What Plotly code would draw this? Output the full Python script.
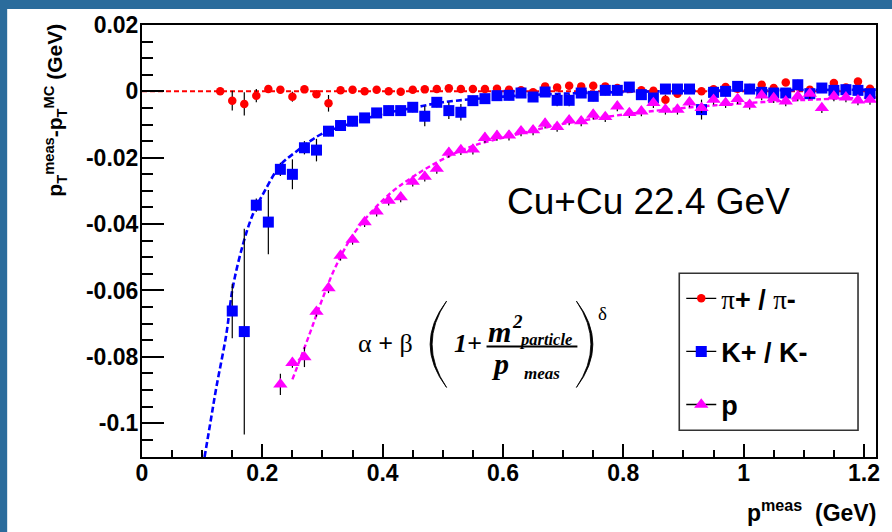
import plotly.graph_objects as go

# ---------------- data ----------------
pion_x = [0.13, 0.15, 0.17, 0.19, 0.21, 0.23, 0.25, 0.27, 0.29, 0.31, 0.33, 0.35, 0.37, 0.39,
          0.41, 0.43, 0.45, 0.47, 0.49, 0.51, 0.53, 0.55, 0.57, 0.59, 0.61, 0.63, 0.65, 0.67,
          0.69, 0.71, 0.73, 0.75, 0.77, 0.79, 0.81, 0.83, 0.85, 0.87, 0.89, 0.91, 0.93, 0.95,
          0.97, 0.99, 1.01, 1.03, 1.05, 1.07, 1.09, 1.11, 1.13, 1.15, 1.17, 1.19, 1.21]
pion_y = [0.0000, -0.0028, -0.0038, -0.0013, 0.0007, 0.0005, -0.0016, 0.0006, -0.0009, -0.0036,
          0.0003, 0.0005, 0.0000, 0.0005, 0.0000, -0.0001, 0.0005, 0.0006, 0.0007, 0.0009,
          0.0007, 0.0007, 0.0007, 0.0008, 0.0005, 0.0003, -0.0003, 0.0015, 0.0012, 0.0017,
          0.0015, 0.0017, 0.0015, 0.0010, 0.0008, 0.0003, 0.0002, -0.0025, -0.0007, 0.0005,
          0.0000, 0.0006, 0.0013, 0.0008, 0.0010, 0.0020, 0.0010, 0.0027, 0.0015, 0.0005,
          0.0010, 0.0025, 0.0012, 0.0030, 0.0008]
pion_err = [0.0010, 0.0030, 0.0035, 0.0020, 0.0010, 0.0010, 0.0015, 0.0010, 0.0010, 0.0025,
            0.0010, 0.0010, 0.0010, 0.0010, 0.0010, 0.0010, 0.0010, 0.0010, 0.0010, 0.0010,
            0.0010, 0.0010, 0.0010, 0.0010, 0.0010, 0.0010, 0.0010, 0.0010, 0.0010, 0.0010,
            0.0010, 0.0010, 0.0010, 0.0010, 0.0010, 0.0010, 0.0010, 0.0015, 0.0010, 0.0010,
            0.0010, 0.0010, 0.0010, 0.0010, 0.0010, 0.0010, 0.0010, 0.0010, 0.0010, 0.0010,
            0.0010, 0.0010, 0.0010, 0.0010, 0.0010]

kaon_x = [0.15, 0.17, 0.19, 0.21, 0.23, 0.25, 0.27, 0.29, 0.31, 0.33, 0.35, 0.37, 0.39, 0.41,
          0.43, 0.45, 0.47, 0.49, 0.51, 0.53, 0.55, 0.57, 0.59, 0.61, 0.63, 0.65, 0.67, 0.69,
          0.71, 0.73, 0.75, 0.77, 0.79, 0.81, 0.83, 0.85, 0.87, 0.89, 0.91, 0.93, 0.95, 0.97,
          0.99, 1.01, 1.03, 1.05, 1.07, 1.09, 1.11, 1.13, 1.15, 1.17, 1.19, 1.21]
kaon_y = [-0.0662, -0.0724, -0.0343, -0.0394, -0.0235, -0.0250, -0.0170, -0.0177, -0.0120, -0.0103,
          -0.0090, -0.0080, -0.0065, -0.0058, -0.0058, -0.0048, -0.0075, -0.0033, -0.0058, -0.0063,
          -0.0028, -0.0022, -0.0013, -0.0012, -0.0005, -0.0017, -0.0002, -0.0027, -0.0027, -0.0005,
          -0.0015, 0.0003, 0.0003, 0.0013, -0.0010, -0.0020, 0.0007, 0.0007, 0.0007, -0.0055,
          -0.0003, 0.0000, 0.0015, 0.0007, -0.0003, -0.0005, -0.0005, 0.0020, -0.0007, 0.0010,
          0.0003, 0.0005, 0.0003, -0.0007]
kaon_err = [0.0082, 0.0310, 0.0020, 0.0097, 0.0020, 0.0045, 0.0020, 0.0034, 0.0015, 0.0015,
            0.0015, 0.0015, 0.0015, 0.0015, 0.0015, 0.0015, 0.0030, 0.0015, 0.0025, 0.0025,
            0.0015, 0.0015, 0.0015, 0.0015, 0.0015, 0.0015, 0.0015, 0.0018, 0.0018, 0.0015,
            0.0015, 0.0015, 0.0015, 0.0015, 0.0015, 0.0015, 0.0015, 0.0015, 0.0015, 0.0030,
            0.0015, 0.0015, 0.0015, 0.0015, 0.0015, 0.0015, 0.0015, 0.0015, 0.0015, 0.0015,
            0.0015, 0.0015, 0.0015, 0.0015]

proton_x = [0.23, 0.25, 0.27, 0.29, 0.31, 0.33, 0.35, 0.37, 0.39, 0.41, 0.43, 0.45, 0.47, 0.49,
            0.51, 0.53, 0.55, 0.57, 0.59, 0.61, 0.63, 0.65, 0.67, 0.69, 0.71, 0.73, 0.75, 0.77,
            0.79, 0.81, 0.83, 0.85, 0.87, 0.89, 0.91, 0.93, 0.95, 0.97, 0.99, 1.01, 1.03, 1.05,
            1.07, 1.09, 1.11, 1.13, 1.15, 1.17, 1.19, 1.21]
proton_y = [-0.0883, -0.0818, -0.0801, -0.0664, -0.0593, -0.0495, -0.0447, -0.0394, -0.0362, -0.0329,
            -0.0319, -0.0272, -0.0257, -0.0233, -0.0185, -0.0177, -0.0175, -0.0140, -0.0134, -0.0133,
            -0.0120, -0.0117, -0.0097, -0.0107, -0.0087, -0.0090, -0.0070, -0.0077, -0.0045, -0.0065,
            -0.0060, -0.0035, -0.0055, -0.0055, -0.0033, -0.0050, -0.0025, -0.0035, -0.0023, -0.0040,
            -0.0012, -0.0020, -0.0030, -0.0015, -0.0007, -0.0050, -0.0015, -0.0018, -0.0027, -0.0025]
proton_err = [0.0032, 0.0015, 0.0030, 0.0015, 0.0015, 0.0015, 0.0015, 0.0015, 0.0015, 0.0015,
              0.0015, 0.0015, 0.0015, 0.0015, 0.0015, 0.0015, 0.0015, 0.0015, 0.0015, 0.0015,
              0.0015, 0.0015, 0.0015, 0.0015, 0.0015, 0.0015, 0.0015, 0.0015, 0.0015, 0.0015,
              0.0015, 0.0015, 0.0015, 0.0015, 0.0015, 0.0015, 0.0015, 0.0015, 0.0015, 0.0015,
              0.0015, 0.0015, 0.0015, 0.0015, 0.0015, 0.0015, 0.0015, 0.0015, 0.0015, 0.0015]

# fitted curves
pion_fit_x = [0.0, 1.22]
pion_fit_y = [0.0, 0.0]
kaon_fit_x = [0.104, 0.1135, 0.1235, 0.140, 0.151, 0.168, 0.184, 0.204, 0.231, 0.256, 0.278, 0.300,
              0.350, 0.400, 0.450, 0.500, 0.600, 0.700, 0.800, 0.900, 1.000, 1.100, 1.220]
kaon_fit_y = [-0.1102, -0.1000, -0.0893, -0.0734, -0.0590, -0.0460, -0.0372, -0.0300, -0.0220, -0.0182,
              -0.0152, -0.0127, -0.0095, -0.0068, -0.0050, -0.0033, -0.0016, -0.0007, -0.0002, 0.0001,
              0.0003, 0.0004, 0.0005]
proton_fit_x = [0.250, 0.278, 0.298, 0.323, 0.356, 0.411, 0.461, 0.505, 0.549, 0.616, 0.700, 0.800,
                0.900, 1.000, 1.100, 1.220]
proton_fit_y = [-0.0868, -0.0734, -0.0634, -0.0524, -0.0419, -0.0310, -0.0245, -0.0200, -0.0165, -0.0133,
                -0.0098, -0.0070, -0.0050, -0.0036, -0.0026, -0.0018]

x_tickvals = [0, 0.2, 0.4, 0.6, 0.8, 1.0, 1.2]
x_ticktext = ["0", "0.2", "0.4", "0.6", "0.8", "1", "1.2"]
y_tickvals = [0.02, 0, -0.02, -0.04, -0.06, -0.08, -0.1]
y_ticktext = ["0.02", "0", "-0.02", "-0.04", "-0.06", "-0.08", "-0.1"]

legend_labels = [
    '<span style="font-family:Liberation Serif">π</span><b>+ / </b>'
    '<span style="font-family:Liberation Serif">π</span><b>-</b>',
    '<b>K+ / K-</b>',
    '<b>p</b>',
]
x_title = '<b>p<sup>meas</sup>\u00a0\u00a0(GeV)</b>'
y_title = '<b>p<sub>T</sub><sup>meas</sup>-p<sub>T</sub><sup>MC</sup> (GeV)</b>'
system_label = 'Cu+Cu 22.4 GeV'

# ---------------- geometry helpers (pixel -> paper) ----------------
W, H = 892, 532
PL, PR, PT, PB = 142, 877, 22, 457


def xp(p):
    return (p - PL) / (PR - PL)


def yp(p):
    return (PB - p) / (PB - PT)


SANS = 'Liberation Sans'
SERIF = 'Liberation Serif'

fig = go.Figure()

# fit curves
fig.add_trace(go.Scatter(x=pion_fit_x, y=pion_fit_y, mode='lines', showlegend=False, hoverinfo='skip',
                         line=dict(color='#ff0000', width=2, dash='5px,3px')))
fig.add_trace(go.Scatter(x=kaon_fit_x, y=kaon_fit_y, mode='lines', showlegend=False, hoverinfo='skip',
                         line=dict(color='#0000ff', width=2.6, dash='6px,3px', shape='spline')))
fig.add_trace(go.Scatter(x=proton_fit_x, y=proton_fit_y, mode='lines', showlegend=False, hoverinfo='skip',
                         line=dict(color='#ff00ff', width=2.4, dash='5px,3px', shape='spline')))

series = [
    (pion_x, pion_y, pion_err, '#ff0000', 'circle', 8.5),
    (kaon_x, kaon_y, kaon_err, '#0000ff', 'square', 11),
    (proton_x, proton_y, proton_err, '#ff00ff', 'triangle-up', 12.5),
]
for sx, sy, se, col, sym, sz in series:
    fig.add_trace(go.Scatter(
        x=sx, y=sy, mode='markers', showlegend=False,
        marker=dict(color=col, symbol=sym, size=sz, line=dict(width=0)),
        error_y=dict(type='data', array=se, visible=True, color='black', thickness=1.2, width=0)))

# legend keys (ROOT style: black line through the marker)
for (sx, sy, se, col, sym, sz), lab in zip(series, legend_labels):
    fig.add_trace(go.Scatter(
        x=[None], y=[None], mode='lines+markers', name=lab, legendgroup=lab,
        line=dict(color='black', width=1.3),
        marker=dict(color=col, symbol=sym, size=sz, line=dict(width=0))))

axis_font = dict(family=SANS, size=23, color='black', weight='bold')

fig.update_layout(
    width=W, height=H,
    margin=dict(l=PL, r=W - PR, t=PT, b=H - PB, pad=0),
    paper_bgcolor='#2b6c9c',
    plot_bgcolor='white',
    showlegend=True,
    xaxis=dict(range=[0, 1.22], tickmode='array', tickvals=x_tickvals, ticktext=x_ticktext,
               ticks='inside', ticklen=13, tickwidth=1.6, tickcolor='black',
               minor=dict(ticks='inside', ticklen=7, tickwidth=1.6, tickcolor='black',
                          tickmode='linear', tick0=0, dtick=0.05, showgrid=False),
               showline=True, linecolor='black', linewidth=2, mirror=True,
               showgrid=False, zeroline=False, tickfont=axis_font, ticklabelstandoff=-6),
    yaxis=dict(range=[-0.1102, 0.02], tickmode='array', tickvals=y_tickvals, ticktext=y_ticktext,
               ticks='inside', ticklen=22, tickwidth=1.6, tickcolor='black',
               minor=dict(ticks='inside', ticklen=11, tickwidth=1.6, tickcolor='black',
                          tickmode='linear', tick0=0, dtick=0.005, showgrid=False),
               showline=True, linecolor='black', linewidth=2, mirror=True,
               showgrid=False, zeroline=False, tickfont=axis_font, ticklabelstandoff=-3),
    legend=dict(x=xp(682), y=yp(273), xanchor='left', yanchor='top',
                bgcolor='rgba(0,0,0,0)', borderwidth=0, tracegroupgap=15,
                font=dict(family=SANS, size=27, color='black'), itemwidth=30),
)

shapes = []
# white slide panel
shapes.append(dict(type='rect', xref='paper', yref='paper', layer='below',
                   x0=xp(7), x1=xp(W + 5), y0=yp(H + 5), y1=yp(6),
                   fillcolor='white', line=dict(width=0)))
# legend box
shapes.append(dict(type='rect', xref='paper', yref='paper', layer='above',
                   x0=xp(680), x1=xp(859), y0=yp(430), y1=yp(272),
                   fillcolor='rgba(0,0,0,0)', line=dict(color='#333333', width=1.6)))
# fraction bar
shapes.append(dict(type='line', xref='paper', yref='paper', layer='above',
                   x0=xp(487), x1=xp(578), y0=yp(345.7), y1=yp(345.7),
                   line=dict(color='black', width=2)))


def paren_path(xe, ytop, ybot, xo_ctrl, xi_ctrl):
    ym = (ytop + ybot) / 2
    return (f'M {xp(xe)},{yp(ytop)} Q {xp(xo_ctrl)},{yp(ym)} {xp(xe)},{yp(ybot)} '
            f'Q {xp(xi_ctrl)},{yp(ym)} {xp(xe)},{yp(ytop)} Z')


shapes.append(dict(type='path', xref='paper', yref='paper', layer='above',
                   path=paren_path(447, 300, 387, 414, 418),
                   fillcolor='black', line=dict(color='black', width=0.8)))
shapes.append(dict(type='path', xref='paper', yref='paper', layer='above',
                   path=paren_path(577, 300, 387, 610, 606),
                   fillcolor='black', line=dict(color='black', width=0.8)))
fig.update_layout(shapes=shapes)

ann = []


def add_text(text, x, y, size, family=SANS, xanchor='center', yanchor='middle', angle=0):
    ann.append(dict(text=text, x=xp(x), y=yp(y), xref='paper', yref='paper', showarrow=False,
                    xanchor=xanchor, yanchor=yanchor, textangle=angle,
                    font=dict(family=family, size=size, color='black')))


# axis titles
add_text(y_title, 55, 19, 21, xanchor='center', yanchor='top', angle=-90)
add_text(x_title, 879, 511, 23, xanchor='right')
# system label
add_text(system_label, 505, 200, 37, xanchor='left')
# formula
add_text('α <b>+</b> β', 386, 343, 26, family=SERIF)
add_text('<b><i>1+</i></b>', 468, 343, 26, family=SERIF)
add_text('<b><i>m</i></b>', 500, 331, 30, family=SERIF)
add_text('<b><i>2</i></b>', 518, 321, 19, family=SERIF)
add_text('<b><i>particle</i></b>', 546, 339, 16.5, family=SERIF)
add_text('<b><i>p</i></b>', 500, 363, 30, family=SERIF)
add_text('<b><i>meas</i></b>', 543, 373, 17, family=SERIF)
add_text('δ', 603, 313, 19, family=SERIF)

fig.update_layout(annotations=ann)

fig.write_html('out.html', config={'displayModeBar': False},
               post_script="document.body.style.margin='0';document.body.style.padding='0';")
